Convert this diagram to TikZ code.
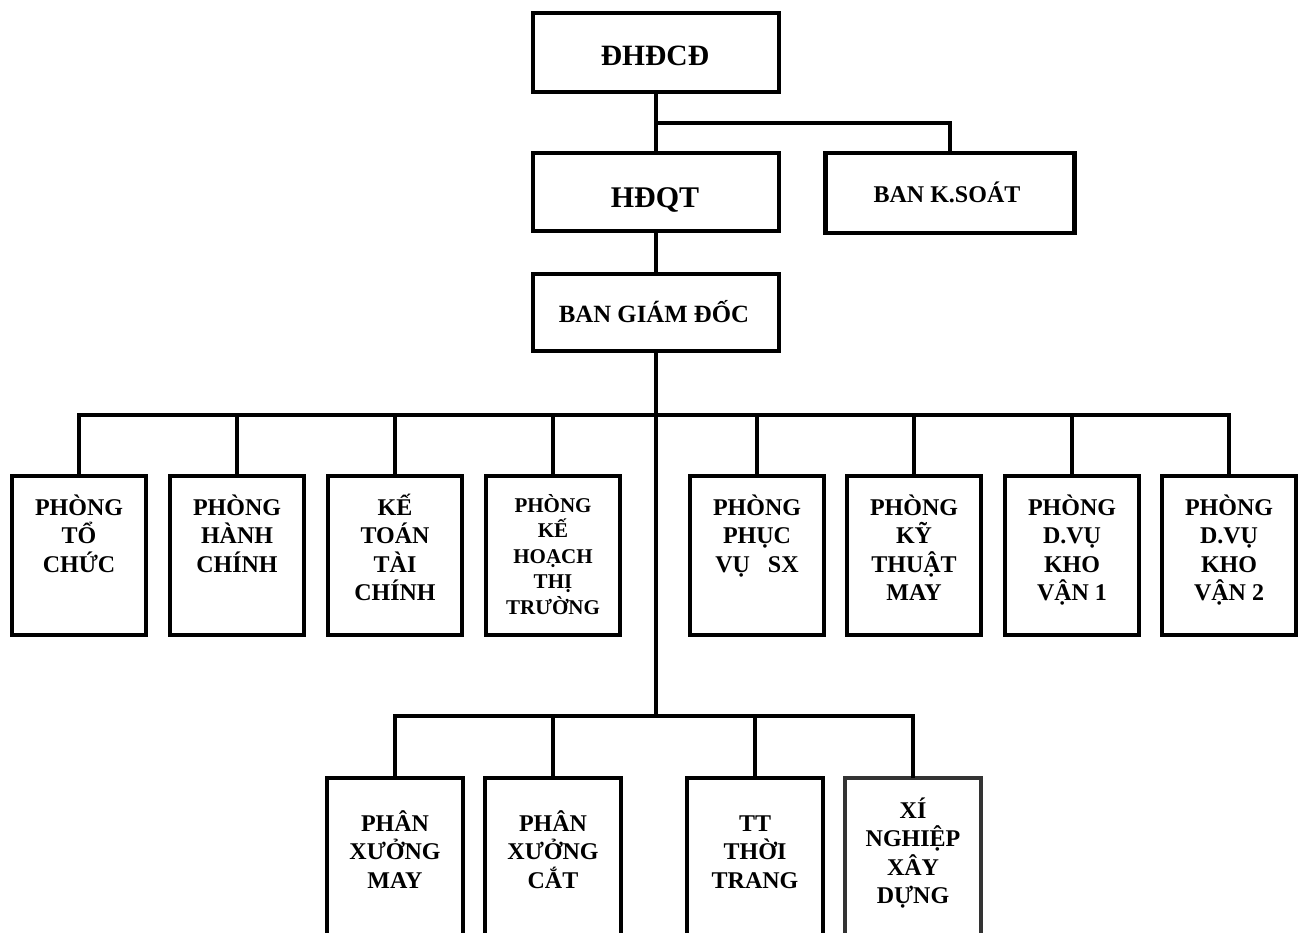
\documentclass[tikz,border=0pt]{standalone}
\usepackage{fontspec}
\setmainfont{Liberation Serif}
\newcommand{\tstr}{\rule{0pt}{26pt}}
\newcommand{\sstr}{\rule{0pt}{23pt}}
\begin{document}
\begin{tikzpicture}[x=1pt,y=-1pt,line width=4.5pt,
  topbox/.style={draw,rectangle,inner sep=0pt,outer sep=0pt,minimum width=246pt,minimum height=78pt},
  unitbox/.style={draw,rectangle,inner sep=0pt,outer sep=0pt,minimum width=134pt,minimum height=159pt},
  lowbox/.style={draw,rectangle,inner sep=0pt,outer sep=0pt,minimum width=136pt,minimum height=170pt},
  lbl/.style={inner sep=0pt,outer sep=0pt,align=center,font=\bfseries\fontsize{24}{28.5}\selectfont},
  lblsmall/.style={inner sep=0pt,outer sep=0pt,align=center,font=\bfseries\fontsize{21}{25.5}\selectfont},
  conn/.style={draw=black,line width=4.5pt}]
\useasboundingbox (0,0) rectangle (1301,933);
\clip (0,0) rectangle (1301,933);
\fill[white] (0,0) rectangle (1301,933);

% top level boxes
\node[topbox,minimum height=79pt] (dhdcd) at (656,52.5) {};
\node[topbox] (hdqt) at (656,192) {};
\node[topbox,minimum width=249pt,minimum height=80pt] (bks) at (950,193) {};
\node[topbox,minimum height=77pt] (bgd) at (656,312.5) {};

\node[lbl,font=\bfseries\fontsize{29.5}{33}\selectfont,anchor=base] (tdhdcd) at (655,66) {ĐHĐCĐ};
\node[lbl,font=\bfseries\fontsize{30}{34}\selectfont,anchor=base] (thdqt) at (655,208) {HĐQT};
\node[lbl,font=\bfseries\fontsize{24}{28}\selectfont,anchor=base] (tbks) at (947,203) {BAN K.SOÁT};
\node[lbl,font=\bfseries\fontsize{24.8}{29}\selectfont,anchor=base] (tbgd) at (654,323) {BAN GIÁM ĐỐC};

% upper row of departments
\node[unitbox] (u1) at (79,555.5) {};
\node[unitbox] (u2) at (237,555.5) {};
\node[unitbox] (u3) at (395,555.5) {};
\node[unitbox] (u4) at (553,555.5) {};
\node[unitbox] (u5) at (757,555.5) {};
\node[unitbox] (u6) at (914,555.5) {};
\node[unitbox] (u7) at (1072,555.5) {};
\node[unitbox] (u8) at (1229,555.5) {};

\node[lbl,anchor=north] (t1) at (79,489) {\tstr PHÒNG\\TỔ\\CHỨC};
\node[lbl,anchor=north] (t2) at (237,489) {\tstr PHÒNG\\HÀNH\\CHÍNH};
\node[lbl,anchor=north] (t3) at (395,489) {\tstr KẾ\\TOÁN\\TÀI\\CHÍNH};
\node[lblsmall,anchor=north] (t4) at (553,489) {\sstr PHÒNG\\KẾ\\HOẠCH\\THỊ\\TRƯỜNG};
\node[lbl,anchor=north] (t5) at (757,489) {\tstr PHÒNG\\PHỤC\\VỤ~~~SX};
\node[lbl,anchor=north] (t6) at (914,489) {\tstr PHÒNG\\KỸ\\THUẬT\\MAY};
\node[lbl,anchor=north] (t7) at (1072,489) {\tstr PHÒNG\\D.VỤ\\KHO\\VẬN 1};
\node[lbl,anchor=north] (t8) at (1229,489) {\tstr PHÒNG\\D.VỤ\\KHO\\VẬN 2};

% lower row of workshops
\node[lowbox] (l1) at (395,863) {};
\node[lowbox] (l2) at (553,863) {};
\node[lowbox] (l3) at (755,863) {};
\node[lowbox,draw=black!80] (l4) at (913,863) {};

\node[lbl,anchor=north] (s1) at (395,805) {\tstr PHÂN\\XƯỞNG\\MAY};
\node[lbl,anchor=north] (s2) at (553,805) {\tstr PHÂN\\XƯỞNG\\CẮT};
\node[lbl,anchor=north] (s3) at (755,805) {\tstr TT\\THỜI\\TRANG};
\node[lbl,anchor=north] (s4) at (913,792) {\tstr XÍ\\NGHIỆP\\XÂY\\DỰNG};

% connectors
\coordinate (k1) at (656,123);
\coordinate (ub) at (656,415);
\coordinate (lb) at (656,716);

\draw[conn] (dhdcd.south) -- (hdqt.north);
\draw[conn] (k1) -| (bks.north);
\draw[conn] (hdqt.south) -- (bgd.north);
\draw[conn] (bgd.south) -- (lb);
\draw[conn] (u1.north) |- (ub) -| (u8.north);
\draw[conn] (u2.north) -- (u2.north |- ub);
\draw[conn] (u3.north) -- (u3.north |- ub);
\draw[conn] (u4.north) -- (u4.north |- ub);
\draw[conn] (u5.north) -- (u5.north |- ub);
\draw[conn] (u6.north) -- (u6.north |- ub);
\draw[conn] (u7.north) -- (u7.north |- ub);
\draw[conn] (l1.north) |- (lb) -| (l4.north);
\draw[conn] (l2.north) -- (l2.north |- lb);
\draw[conn] (l3.north) -- (l3.north |- lb);
\end{tikzpicture}
\end{document}
